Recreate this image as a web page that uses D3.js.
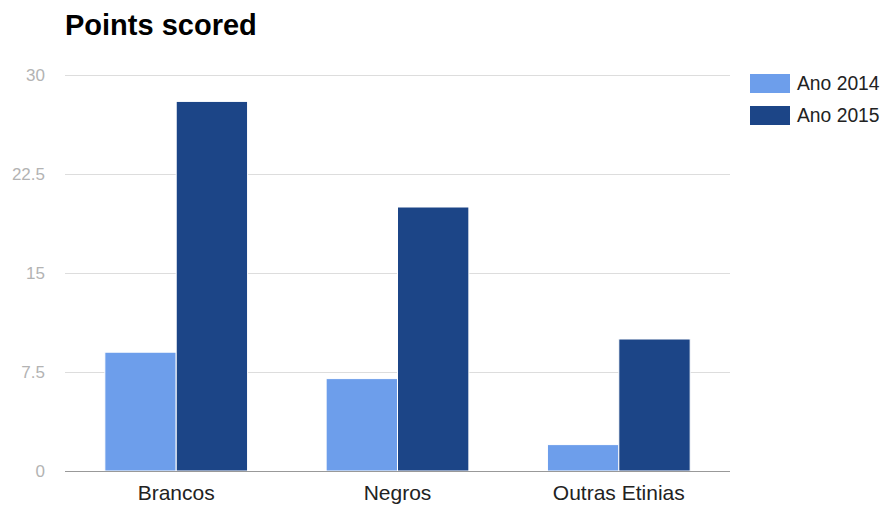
<!DOCTYPE html>
<html>
<head>
<meta charset="utf-8">
<script src="https://cdn.jsdelivr.net/npm/d3@7"></script>
<style>
  body { margin: 0; background: #fff; }
  text { font-family: "Liberation Sans", Arial, sans-serif; }
</style>
</head>
<body>
<svg id="chart" width="882" height="506"></svg>
<script>
// data
var categorias = ["Brancos", "Negros", "Outras Etinias"];
var series = ["Ano 2014", "Ano 2015"];
var ano2014 = [9, 7, 2];
var ano2015 = [28, 20, 10];
var yTicks = [0, 7.5, 15, 22.5, 30];
var cores = ["#6d9eeb", "#1c4587"];

var svg = d3.select("#chart");
var plotL = 65, plotR = 730, plotT = 75, plotB = 471;

var x0 = d3.scaleBand().domain(categorias).range([plotL, plotR]).paddingInner(0.355).paddingOuter(0.18);
var x1 = d3.scaleBand().domain(series).range([0, x0.bandwidth()]).padding(0);
var y = d3.scaleLinear().domain([0, 30]).range([plotB, plotT]);

// title
svg.append("text").attr("x", 65).attr("y", 35)
  .attr("font-size", 29).attr("font-weight", "bold").attr("fill", "#000")
  .text("Points scored");

// gridlines
svg.append("g").selectAll("line").data(yTicks.slice(1)).join("line")
  .attr("x1", plotL).attr("x2", plotR)
  .attr("y1", function(d) { return Math.round(y(d)) + 0.5; })
  .attr("y2", function(d) { return Math.round(y(d)) + 0.5; })
  .attr("stroke", "#dddddd");

svg.append("g").selectAll("text").data(yTicks).join("text")
  .attr("x", 45).attr("y", function(d) { return y(d) + 6; })
  .attr("text-anchor", "end").attr("font-size", 17).attr("fill", "#b3b3b3")
  .text(function(d) { return d; });

// bars
var dados = [ano2014, ano2015];
var grupos = svg.append("g").selectAll("g").data(categorias).join("g")
  .attr("transform", function(d) { return "translate(" + x0(d) + ",0)"; });
grupos.selectAll("rect").data(function(d, i) {
    return series.map(function(s, j) { return { s: s, v: dados[j][i], c: cores[j] }; });
  }).join("rect")
  .attr("x", function(d) { return x1(d.s); })
  .attr("width", x1.bandwidth())
  .attr("y", function(d) { return y(d.v); })
  .attr("height", function(d) { return y(0) - y(d.v); })
  .attr("fill", function(d) { return d.c; })
  .attr("stroke", "#ffffff").attr("stroke-width", 1);

// baseline
svg.append("line").attr("x1", plotL).attr("x2", plotR)
  .attr("y1", plotB + 0.5).attr("y2", plotB + 0.5).attr("stroke", "#999999");

// category labels
svg.append("g").selectAll("text").data(categorias).join("text")
  .attr("x", function(d) { return x0(d) + x0.bandwidth() / 2; })
  .attr("y", 500).attr("text-anchor", "middle").attr("font-size", 21).attr("fill", "#222222")
  .text(function(d) { return d; });

// legend
var leg = svg.append("g").selectAll("g").data(series).join("g")
  .attr("transform", function(d, i) { return "translate(750," + (74 + i * 32) + ")"; });
leg.append("rect").attr("width", 40).attr("height", 19)
  .attr("fill", function(d, i) { return cores[i]; });
leg.append("text").attr("x", 47).attr("y", 16).attr("font-size", 19.3).attr("fill", "#222222")
  .text(function(d) { return d; });
</script>
</body>
</html>
